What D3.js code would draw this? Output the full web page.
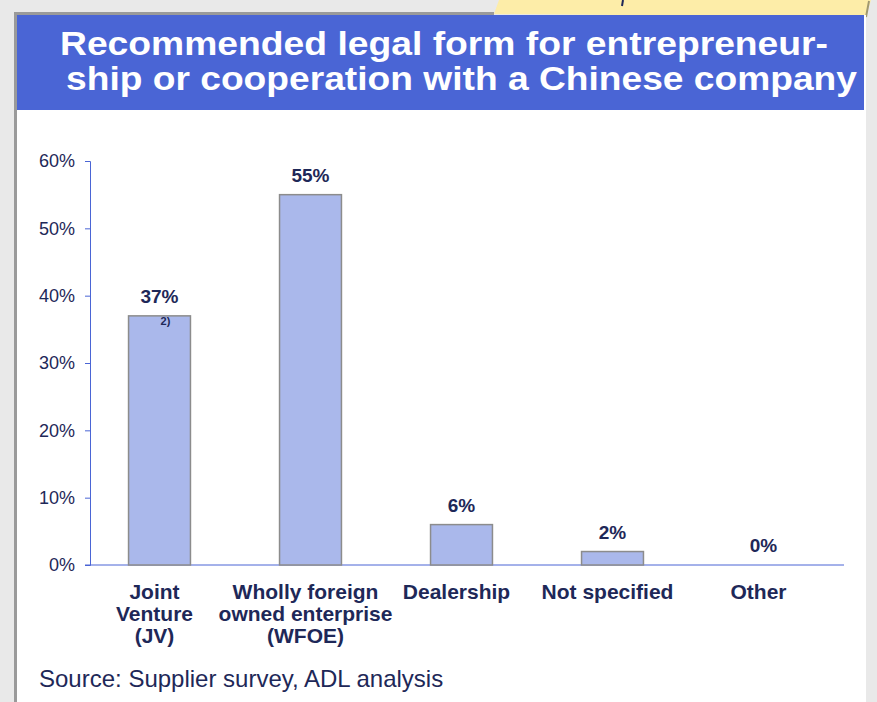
<!DOCTYPE html>
<html>
<head>
<meta charset="utf-8">
<script src="https://cdn.jsdelivr.net/npm/d3@7"></script>
<style>
  html, body { margin: 0; padding: 0; background: #e9e9e9; }
  svg { display: block; font-family: "Liberation Sans", Arial, sans-serif; }
</style>
</head>
<body>
<svg width="877" height="702"></svg>
<script>
const categories = [
  ['Joint', 'Venture', '(JV)'],
  ['Wholly foreign', 'owned enterprise', '(WFOE)'],
  ['Dealership'],
  ['Not specified'],
  ['Other']
]
const values = [37, 55, 6, 2, 0]
const valueLabels = ['37%', '55%', '6%', '2%', '0%']
const yTicks = [0, 10, 20, 30, 40, 50, 60]
const titleLines = ['Recommended legal form for entrepreneur-', 'ship or cooperation with a Chinese company']
const sourceText = 'Source: Supplier survey, ADL analysis'

const navy = '#1e2858'
const blue = '#4a65d5'
const svg = d3.select('svg')

// page frame
svg.append('polygon')
  .attr('points', '494,14 499,0 871,0 866,17')
  .attr('fill', '#fdeda8')
svg.append('line')
  .attr('x1', 869).attr('y1', 1).attr('x2', 866).attr('y2', 17)
  .attr('stroke', '#a09870').attr('stroke-width', 2)
svg.append('line')
  .attr('x1', 623).attr('y1', 0).attr('x2', 622).attr('y2', 6)
  .attr('stroke', navy).attr('stroke-width', 2)
svg.append('rect')
  .attr('x', 14).attr('y', 15).attr('width', 852).attr('height', 690)
  .attr('fill', '#fff')
svg.append('rect')
  .attr('x', 14).attr('y', 12).attr('width', 480).attr('height', 3)
  .attr('fill', '#9a9a9a')
svg.append('rect')
  .attr('x', 14).attr('y', 12).attr('width', 3).attr('height', 690)
  .attr('fill', '#9a9a9a')

// title
svg.append('rect')
  .attr('x', 17).attr('y', 15).attr('width', 847).attr('height', 95)
  .attr('fill', blue)
svg.append('g')
  .selectAll('text')
  .data(titleLines)
  .join('text')
  .attr('x', (d, i) => i ? 66 : 60)
  .attr('y', (d, i) => 55 + i * 35)
  .attr('fill', '#fff')
  .attr('font-weight', 'bold')
  .attr('font-size', 33)
  .attr('textLength', (d, i) => i ? 791 : 768)
  .attr('lengthAdjust', 'spacingAndGlyphs')
  .text(d => d)

// chart
const x = d3.scaleBand()
  .domain(d3.range(categories.length))
  .range([84, 839])
  .paddingInner(0.59)
  .paddingOuter(0.295)

const y = d3.scaleLinear()
  .domain([0, 60])
  .range([565, 161])

const yAxis = svg.append('g')
  .attr('transform', 'translate(90,0)')
  .call(d3.axisLeft(y).tickValues(yTicks).tickSize(5).tickPadding(10).tickFormat(d => d + '%'))
yAxis.select('.domain').attr('stroke', blue)
yAxis.selectAll('.tick line').attr('stroke', blue)
yAxis.selectAll('.tick text')
  .attr('fill', navy)
  .attr('font-size', 18)
  .attr('font-family', '"Liberation Sans", Arial, sans-serif')

svg.append('line')
  .attr('x1', 85).attr('x2', 844)
  .attr('y1', y(0)).attr('y2', y(0))
  .attr('stroke', blue)

svg.append('g')
  .selectAll('rect')
  .data(values)
  .join('rect')
  .attr('x', (d, i) => x(i))
  .attr('y', d => y(d))
  .attr('width', x.bandwidth())
  .attr('height', d => y(0) - y(d))
  .attr('fill', '#aab8eb')
  .attr('stroke', d => d > 0 ? '#8c8c8c' : 'none')
  .attr('stroke-width', 1.5)

svg.append('g')
  .selectAll('text')
  .data(values)
  .join('text')
  .attr('x', (d, i) => x(i) + x.bandwidth() / 2)
  .attr('y', d => y(d) - 13)
  .attr('text-anchor', 'middle')
  .attr('fill', navy)
  .attr('font-weight', 'bold')
  .attr('font-size', 19)
  .text((d, i) => valueLabels[i])

// footnote marker on JV bar
svg.append('text')
  .attr('x', x(0) + x.bandwidth() / 2 + 6)
  .attr('y', y(values[0]) + 9)
  .attr('text-anchor', 'middle')
  .attr('fill', navy)
  .attr('font-weight', 'bold')
  .attr('font-size', 11)
  .text('2)')

// category labels (sit a little left of bar centres)
svg.append('g')
  .selectAll('text')
  .data(categories)
  .join('text')
  .attr('text-anchor', 'middle')
  .attr('fill', navy)
  .attr('font-weight', 'bold')
  .attr('font-size', 21)
  .attr('transform', (d, i) => `translate(${x(i) + x.bandwidth() / 2 - 5},599)`)
  .selectAll('tspan')
  .data(d => d)
  .join('tspan')
  .attr('x', 0)
  .attr('y', (d, i) => i * 22)
  .text(d => d)

svg.append('text')
  .attr('x', 39).attr('y', 687)
  .attr('fill', navy)
  .attr('font-size', 24)
  .text(sourceText)
</script>
</body>
</html>
